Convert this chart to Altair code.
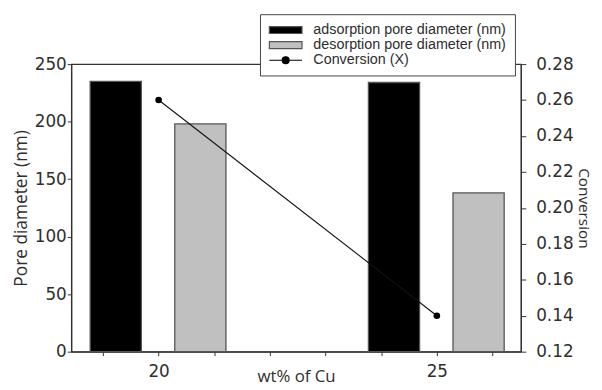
import altair as alt
import pandas as pd

# ---- data ----
cu = [20, 25]
adsorption_nm = [235, 234]
desorption_nm = [198, 138]
conversion = [0.26, 0.14]
series_names = ["adsorption pore diameter (nm)", "desorption pore diameter (nm)", "Conversion (X)"]
x_ticks = [19, 20, 21, 22, 23, 24, 25, 26]
left_ticks = [0, 50, 100, 150, 200, 250]
right_ticks = [0.12, 0.14, 0.16, 0.18, 0.20, 0.22, 0.24, 0.26, 0.28]

# layout constants (not data)
BAR_W = 0.92
OFFSETS = {series_names[0]: -0.77, series_names[1]: 0.75}

bars = pd.DataFrame({
    "cu": cu + cu,
    "value": adsorption_nm + desorption_nm,
    "series": [series_names[0]] * len(cu) + [series_names[1]] * len(cu),
})
bars["center"] = bars["cu"] + bars["series"].map(OFFSETS)
bars["x_lo"] = bars["center"] - BAR_W / 2
bars["x_hi"] = bars["center"] + BAR_W / 2
bars["zero"] = 0

conv = pd.DataFrame({"cu": cu, "conversion": conversion})

TICK_FONT = "DejaVu Sans"
TITLE_FONT = "Open Sans"
TXT = "#2e2e2e"
AX = "#333333"

xscale = alt.Scale(domain=[18.43, 26.51], nice=False, zero=False)

x_axis = alt.Axis(
    values=x_ticks,
    format="d",
    labelExpr="(datum.value == 20 || datum.value == 25) ? datum.label : ''",
    title="wt% of Cu",
    grid=False,
    tickSize=4,
    labelPadding=8,
    labelFont=TICK_FONT, labelFontSize=17, labelColor=TXT,
    titleFont=TITLE_FONT, titleFontSize=17, titleFontWeight="normal", titleColor=TXT,
    titleBaseline="alphabetic", titleY=30,
    domainColor=AX, tickColor=AX, domainWidth=1.2,
)

# symbol shapes: unit = 7 px (symbolSize 196 -> 14 px span for [-1, 1])
sym_shape = ("datum.value == 'Conversion (X)' ? "
             "'M-2.36,0L2.36,0M-0.5,0A0.5,0.5,0,1,1,0.5,0A0.5,0.5,0,1,1,-0.5,0Z' : "
             "'M-2.36,-0.5L2.36,-0.5L2.36,0.5L-2.36,0.5Z'")
sym_stroke = "datum.value == 'Conversion (X)' ? '#000000' : '#555555'"

legend = alt.Legend(
    orient="none", legendX=191, legendY=-50.5, title=None, direction="vertical",
    fillColor="white", strokeColor="#444", padding=8,
    symbolSize=196, symbolStrokeWidth=1.2,
    symbolType={"expr": sym_shape},
    symbolStrokeColor={"expr": sym_stroke},
    symbolOpacity=1, symbolOffset=10,
    labelFont="Liberation Sans", labelFontSize=14.5, labelColor=TXT, labelLimit=400,
    labelOffset=20, rowPadding=0.3,
)

bar_layer = alt.Chart(bars).mark_rect(stroke="#555", strokeWidth=1.3).encode(
    x=alt.X("x_lo:Q", scale=xscale, axis=x_axis),
    x2="x_hi:Q",
    y=alt.Y("value:Q", scale=alt.Scale(domain=[0, 250], nice=False),
            axis=alt.Axis(values=left_ticks, title="Pore diameter (nm)", grid=False,
                          tickSize=4, labelPadding=1,
                          labelFont=TICK_FONT, labelFontSize=17, labelColor=TXT,
                          titleFont=TITLE_FONT, titleFontSize=17.5, titleFontWeight="normal",
                          titleColor=TXT, titlePadding=4,
                          domainColor=AX, tickColor=AX, domainWidth=1.2)),
    y2="zero:Q",
    color=alt.Color("series:N",
                    scale=alt.Scale(domain=series_names, range=["#000000", "#c0c0c0", "#000000"]),
                    legend=legend),
)

right_axis = alt.Axis(
    orient="right", values=right_ticks, format=".2f", title="Conversion", grid=False,
    tickSize=5, labelPadding=10,
    labelFont=TICK_FONT, labelFontSize=17, labelColor=TXT,
    titleFont=TITLE_FONT, titleFontSize=15.5, titleFontWeight="normal", titleColor=TXT,
    titlePadding=2,
    domainColor=AX, tickColor=AX, domainWidth=1.2,
)

conv_base = alt.Chart(conv).encode(
    x=alt.X("cu:Q", scale=xscale),
    y=alt.Y("conversion:Q", scale=alt.Scale(domain=[0.12, 0.28], nice=False, zero=False),
            axis=right_axis),
)
conv_line = conv_base.mark_line(color="#111", strokeWidth=1.1)
conv_pts = conv_base.mark_point(filled=True, color="#000", size=45, opacity=1)

chart = alt.layer(bar_layer, conv_line + conv_pts).resolve_scale(y="independent").properties(
    width=455, height=291,
    autosize=alt.AutoSizeParams(type="none"),
    padding={"left": 64, "top": 54.5, "right": 74, "bottom": 35},
    background="white",
).configure_view(stroke=AX, strokeWidth=1.2)

chart.save("out.html", embed_options={"renderer": "svg", "actions": False})
